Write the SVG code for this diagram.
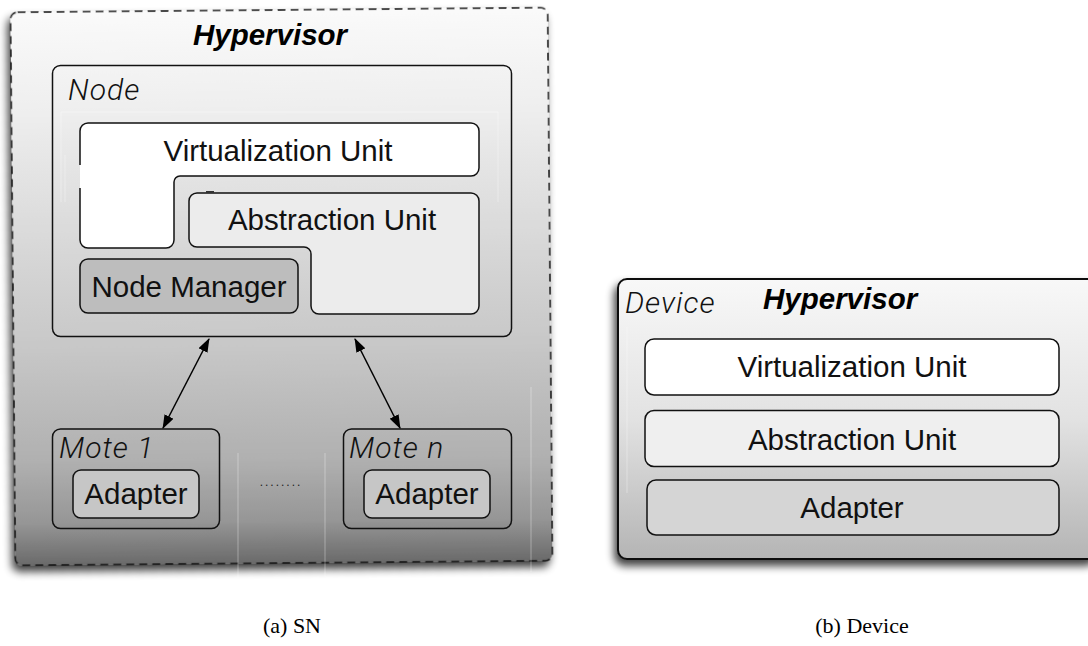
<svg xmlns="http://www.w3.org/2000/svg" width="1088" height="646" viewBox="0 0 1088 646">
  <defs>
    <linearGradient id="snFill" gradientUnits="userSpaceOnUse" x1="0" y1="10" x2="0" y2="565">
      <stop offset="0" stop-color="#fafafa"/>
      <stop offset="0.17" stop-color="#efefef"/>
      <stop offset="0.52" stop-color="#cfcfcf"/>
      <stop offset="0.6" stop-color="#c8c8c8"/>
      <stop offset="0.81" stop-color="#b0b0b0"/>
      <stop offset="0.92" stop-color="#969696"/>
      <stop offset="1" stop-color="#686868"/>
    </linearGradient>
    <linearGradient id="devFill" gradientUnits="userSpaceOnUse" x1="0" y1="279" x2="0" y2="560">
      <stop offset="0" stop-color="#f8f8f8"/>
      <stop offset="0.5" stop-color="#e2e2e2"/>
      <stop offset="1" stop-color="#b4b4b4"/>
    </linearGradient>
    <filter id="shadow" x="-10%" y="-10%" width="120%" height="125%">
      <feGaussianBlur in="SourceAlpha" stdDeviation="4"/>
      <feOffset dx="-3" dy="6" result="blur"/>
      <feComponentTransfer><feFuncA type="linear" slope="0.75"/></feComponentTransfer>
      <feMerge><feMergeNode/><feMergeNode in="SourceGraphic"/></feMerge>
    </filter>
    <marker id="head" viewBox="0 0 14 10" refX="13" refY="5" markerWidth="14" markerHeight="10" markerUnits="userSpaceOnUse" orient="auto-start-reverse">
      <path d="M0,0 L14,5 L0,10 Z" fill="#000"/>
    </marker>
  </defs>
  <style>
    .box { stroke: #111; stroke-width: 1.5; }
    .lbl { font-family: "Liberation Sans", Arial, sans-serif; font-size: 29.5px; fill: #111; text-anchor: middle; }
    .title { font-family: "Liberation Sans", Arial, sans-serif; font-size: 29.5px; font-weight: bold; font-style: italic; fill: #000; }
    .tag { font-family: Roboto, "Liberation Sans", sans-serif; font-weight: 300; font-style: italic; font-size: 30px; letter-spacing: 1px; fill: #111; }
    .cap { font-family: "Liberation Serif", "Times New Roman", serif; font-size: 22px; fill: #000; text-anchor: middle; }
    .faint { stroke: #ffffff; stroke-width: 1; opacity: 0.35; fill: none; }
  </style>

  <rect width="1088" height="646" fill="#fff"/>

  <!-- (a) sensor node hypervisor -->
  <g id="sn-hypervisor">
    <rect x="13" y="10" width="537" height="553" rx="7" fill="url(#snFill)" stroke="#111" stroke-width="1.5" stroke-dasharray="8 5" transform="rotate(-0.5 281.5 286.7)" filter="url(#shadow)"/>
    <text class="title" x="270" y="45" text-anchor="middle">Hypervisor</text>
  </g>

  <!-- faint guide lines left in the drawing -->
  <g id="guides">
    <path class="faint" d="M61 202 V112 H498 V202"/>
    <path class="faint" d="M65 155 V202"/>
    <path class="faint" d="M238 453 V580 M325 453 V580 M531 387 V572"/>
  </g>

  <g id="node">
    <rect class="box" x="52.5" y="65.5" width="459" height="271" rx="8" fill="none"/>
    <text class="tag" x="68" y="100">Node</text>
  </g>

  <g id="virtualization-unit">
    <path d="M88 123 H471 A8 8 0 0 1 479 131 V168 A8 8 0 0 1 471 176 H180 A6 6 0 0 0 174 182 V240 A8 8 0 0 1 166 248 H88 A8 8 0 0 1 80 240 V131 A8 8 0 0 1 88 123 Z" fill="#fff"/>
    <path class="box" fill="none" d="M80 188 V240 A8 8 0 0 0 88 248 H166 A8 8 0 0 0 174 240 V182 A6 6 0 0 1 180 176 H471 A8 8 0 0 0 479 168 V131 A8 8 0 0 0 471 123 H88 A8 8 0 0 0 80 131 V165"/>
    <text class="lbl" x="278" y="161">Virtualization Unit</text>
  </g>

  <g id="abstraction-unit">
    <path class="box" d="M197 193 H471 A8 8 0 0 1 479 201 V306 A8 8 0 0 1 471 314 H319 A8 8 0 0 1 311 306 V254 A7 7 0 0 0 304 247 H197 A8 8 0 0 1 189 239 V201 A8 8 0 0 1 197 193 Z" fill="#ececec"/>
    <line x1="206" y1="192" x2="214" y2="192" stroke="#333" stroke-width="2"/>
    <text class="lbl" x="332" y="230">Abstraction Unit</text>
  </g>

  <g id="node-manager">
    <rect class="box" x="80" y="259" width="218" height="54" rx="8" fill="#bdbdbd"/>
    <text class="lbl" x="189" y="297">Node Manager</text>
  </g>

  <g id="mote-1">
    <rect class="box" x="52.5" y="429" width="167" height="99.5" rx="8" fill="none"/>
    <text class="tag" x="59" y="458">Mote 1</text>
    <rect class="box" x="73" y="470" width="126" height="48" rx="8" fill="#c6c6c6"/>
    <text class="lbl" x="136" y="504">Adapter</text>
  </g>

  <g id="mote-ellipsis">
    <text x="281" y="486" font-family="Liberation Sans, Arial, sans-serif" font-size="12" letter-spacing="2" text-anchor="middle" fill="#222">........</text>
  </g>

  <g id="mote-n">
    <rect class="box" x="343.5" y="429" width="168" height="99.5" rx="8" fill="none"/>
    <text class="tag" x="349" y="458">Mote n</text>
    <rect class="box" x="364" y="470" width="126" height="48" rx="8" fill="#c6c6c6"/>
    <text class="lbl" x="427" y="504">Adapter</text>
  </g>

  <g id="connectors" stroke="#000" stroke-width="1.5" fill="none">
    <line x1="209" y1="339" x2="163" y2="428" marker-start="url(#head)" marker-end="url(#head)"/>
    <line x1="355" y1="339" x2="400" y2="428" marker-start="url(#head)" marker-end="url(#head)"/>
  </g>

  <!-- (b) device hypervisor -->
  <g id="device">
    <rect x="618" y="279" width="480" height="280" rx="9" fill="url(#devFill)" stroke="#111" stroke-width="2" filter="url(#shadow)"/>
    <path class="faint" d="M627 327 V493"/>
    <text class="tag" x="625" y="313">Device</text>
    <text class="title" x="763" y="309" font-size="30">Hypervisor</text>
  </g>

  <g id="device-virtualization-unit">
    <rect class="box" x="645" y="339" width="414" height="56" rx="9" fill="#fff"/>
    <text class="lbl" x="852" y="377">Virtualization Unit</text>
  </g>

  <g id="device-abstraction-unit">
    <rect class="box" x="645" y="410.5" width="414" height="56" rx="9" fill="#efefef"/>
    <text class="lbl" x="852" y="450">Abstraction Unit</text>
  </g>

  <g id="device-adapter">
    <rect class="box" x="647" y="480" width="412" height="55" rx="9" fill="#d5d5d5"/>
    <text class="lbl" x="852" y="518">Adapter</text>
  </g>

  <g id="captions">
    <text class="cap" x="292" y="633">(a) SN</text>
    <text class="cap" x="862" y="633">(b) Device</text>
  </g>
</svg>
